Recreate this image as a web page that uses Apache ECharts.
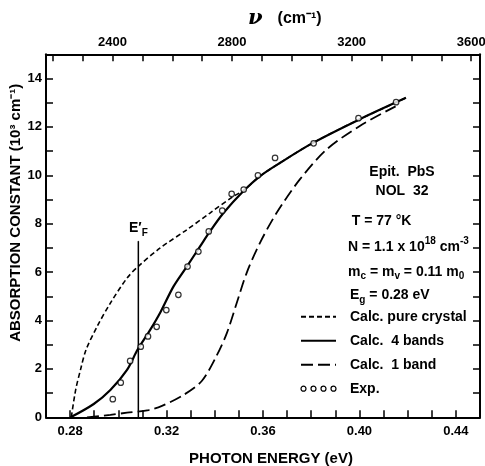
<!DOCTYPE html>
<html>
<head>
<meta charset="utf-8">
<script src="https://cdn.jsdelivr.net/npm/echarts@6/dist/echarts.min.js"></script>
<style>
  html, body { margin: 0; padding: 0; background: #fff; }
  #chart { width: 485px; height: 466px; }
</style>
</head>
<body>
<div id="chart"></div>
<script>
// photon energy (eV) vs absorption constant (10^3 cm^-1)
var pureX = [0.2805, 0.2823, 0.2843, 0.2866, 0.2912, 0.2967, 0.3036, 0.3084, 0.3174, 0.3284, 0.3380, 0.3477, 0.3518, 0.3587, 0.3670, 0.3807, 0.4000, 0.4193];
var pureY = [0, 1.13, 1.96, 2.79, 3.75, 4.72, 5.75, 6.25, 7.00, 7.75, 8.44, 9.13, 9.36, 9.96, 10.51, 11.34, 12.31, 13.20];

var fourX = [0.2802, 0.2898, 0.2967, 0.3036, 0.3080, 0.3132, 0.3174, 0.3229, 0.3284, 0.3339, 0.3380, 0.3436, 0.3518, 0.3587, 0.3670, 0.3807, 0.4000, 0.4193];
var fourY = [0, 0.55, 1.13, 1.96, 2.80, 3.61, 4.33, 5.41, 6.23, 7.06, 7.68, 8.44, 9.34, 9.96, 10.51, 11.34, 12.31, 13.20];

var oneX = [0.2870, 0.2967, 0.3036, 0.3126, 0.3181, 0.3270, 0.3346, 0.3408, 0.3450, 0.3491, 0.3532, 0.3587, 0.3656, 0.3752, 0.3863, 0.4000, 0.4150];
var oneY = [0, 0.10, 0.19, 0.30, 0.47, 0.92, 1.50, 2.55, 3.48, 4.72, 5.96, 7.20, 8.44, 9.82, 11.06, 12.03, 12.85];

var expX = [0.2977, 0.3010, 0.3049, 0.3093, 0.3123, 0.3159, 0.3199, 0.3249, 0.3287, 0.3332, 0.3375, 0.3431, 0.3470, 0.3520, 0.3579, 0.3650, 0.3810, 0.3996, 0.4152];
var expY = [0.75, 1.43, 2.33, 2.92, 3.34, 3.74, 4.43, 5.06, 6.23, 6.85, 7.68, 8.54, 9.23, 9.41, 10.00, 10.72, 11.32, 12.36, 13.02];

// E_F' marker
var efX = [0.3083, 0.3083];
var efY = [0, 7.27];

var seriesNames = ['Calc. pure crystal', 'Calc.  4 bands', 'Calc.  1 band', 'Exp.'];

function pairs(xs, ys) {
  return xs.map(function (x, i) { return [x, ys[i]]; });
}

var FONT = 'Liberation Sans';
var TXT = 'bold 14px "Liberation Sans"';

var chart = echarts.init(document.getElementById('chart'));

var option = {
  backgroundColor: '#fff',
  animation: false,
  title: {
    text: '{nu|ν}   {t|(cm⁻¹)}',
    left: 243,
    top: 3,
    textStyle: {
      rich: {
        nu: { fontFamily: 'DejaVu Serif', fontStyle: 'italic', fontWeight: 'bold', fontSize: 21, color: '#000' },
        t: { fontFamily: FONT, fontWeight: 'bold', fontSize: 16, color: '#000' }
      }
    }
  },
  legend: {
    orient: 'vertical',
    left: 300,
    top: 304.7,
    padding: 0,
    itemGap: 0,
    itemWidth: 35,
    itemHeight: 5,
    itemStyle: { opacity: 0 },
    textStyle: { fontFamily: FONT, fontWeight: 'bold', fontSize: 14, color: '#000', lineHeight: 24, padding: [0, 0, 0, 9] },
    data: [
      { name: seriesNames[0] },
      { name: seriesNames[1] },
      { name: seriesNames[2] },
      {
        name: seriesNames[3],
        icon: 'path://M0,2.5a2.5,2.5 0 1,0 5,0a2.5,2.5 0 1,0 -5,0M10,2.5a2.5,2.5 0 1,0 5,0a2.5,2.5 0 1,0 -5,0M20,2.5a2.5,2.5 0 1,0 5,0a2.5,2.5 0 1,0 -5,0M30,2.5a2.5,2.5 0 1,0 5,0a2.5,2.5 0 1,0 -5,0',
        itemStyle: { opacity: 1, color: 'transparent', borderColor: '#000', borderWidth: 1.2 }
      }
    ]
  },
  grid: [
    { left: 46, right: 5, top: 54.3, bottom: 48.7, containLabel: false, outerBoundsMode: 'none' },
    { left: 52.7, right: 13.8, top: 54.3, bottom: 48.7, containLabel: false, outerBoundsMode: 'none' }
  ],
  xAxis: [
    {
      gridIndex: 0,
      type: 'value',
      position: 'bottom',
      min: 0.27,
      max: 0.45,
      interval: 0.01,
      name: 'PHOTON ENERGY (eV)',
      nameLocation: 'middle',
      nameGap: 34,
      nameMoveOverlap: false,
      nameTextStyle: { fontFamily: FONT, fontWeight: 'bold', fontSize: 15, color: '#000', padding: [0, 0, 0, 16] },
      axisLine: { onZero: false, lineStyle: { color: '#000', width: 2 } },
      axisTick: { inside: true, length: 7, lineStyle: { color: '#000', width: 1.5 } },
      axisLabel: {
        margin: 8,
        fontFamily: FONT, fontWeight: 'bold', fontSize: 13, color: '#000',
        formatter: function (v) {
          var k = Math.round(v * 100);
          return (k >= 28 && k % 4 === 0) ? (k / 100).toFixed(2) : '';
        }
      },
      splitLine: { show: false }
    },
    {
      gridIndex: 1,
      type: 'value',
      position: 'top',
      min: 2200,
      max: 3600,
      interval: 100,
      axisLine: { onZero: false, lineStyle: { color: '#000', width: 2 } },
      axisTick: { inside: true, length: 7, lineStyle: { color: '#000', width: 1.5 } },
      axisLabel: {
        margin: 5,
        fontFamily: FONT, fontWeight: 'bold', fontSize: 13, color: '#000',
        formatter: function (v) { return (v % 400 === 0) ? String(v) : ''; }
      },
      splitLine: { show: false }
    },
    {
      gridIndex: 0,
      type: 'value',
      position: 'top',
      min: 0.27,
      max: 0.45,
      axisLine: { onZero: false, lineStyle: { color: '#000', width: 2 } },
      axisTick: { show: false },
      axisLabel: { show: false },
      splitLine: { show: false }
    }
  ],
  yAxis: [
    {
      gridIndex: 0,
      type: 'value',
      min: 0,
      max: 15,
      interval: 1,
      name: 'ABSORPTION CONSTANT (10³ cm⁻¹)',
      nameLocation: 'middle',
      nameGap: 23,
      nameMoveOverlap: false,
      nameTextStyle: { fontFamily: FONT, fontWeight: 'bold', fontSize: 15, color: '#000', padding: [0, 0, 0, 46] },
      axisLine: { onZero: false, lineStyle: { color: '#000', width: 2 } },
      axisTick: { inside: true, length: 7, lineStyle: { color: '#000', width: 1.5 } },
      axisLabel: {
        margin: 4,
        fontFamily: FONT, fontWeight: 'bold', fontSize: 13, color: '#000',
        formatter: function (v) { return (v % 2 === 0 && v < 15) ? String(v) : ''; }
      },
      splitLine: { show: false }
    },
    {
      gridIndex: 0,
      type: 'value',
      position: 'right',
      min: 0,
      max: 15,
      interval: 1,
      axisLine: { show: true, onZero: false, lineStyle: { color: '#000', width: 2 } },
      axisTick: { inside: true, length: 7, lineStyle: { color: '#000', width: 1.5 } },
      axisLabel: { show: false },
      splitLine: { show: false }
    },
    { gridIndex: 1, type: 'value', show: false, min: 0, max: 1 }
  ],
  graphic: [
    { type: 'text', x: 402, y: 171.7, style: { text: 'Epit.  PbS', font: TXT, fill: '#000', textAlign: 'center', textVerticalAlign: 'middle' } },
    { type: 'text', x: 402, y: 190.7, style: { text: 'NOL  32', font: TXT, fill: '#000', textAlign: 'center', textVerticalAlign: 'middle' } },
    { type: 'text', x: 351.7, y: 220.7, style: { text: 'T = 77 °K', font: TXT, fill: '#000', textAlign: 'left', textVerticalAlign: 'middle' } },
    {
      type: 'text', x: 348, y: 246.7,
      style: {
        text: '{n|N = 1.1 x 10}{p|18}{n| cm}{p|-3}',
        textAlign: 'left', textVerticalAlign: 'middle',
        rich: {
          n: { fontFamily: FONT, fontWeight: 'bold', fontSize: 14, fill: '#000', lineHeight: 20 },
          p: { fontFamily: FONT, fontWeight: 'bold', fontSize: 10, fill: '#000', lineHeight: 10, verticalAlign: 'top' }
        }
      }
    },
    {
      type: 'text', x: 348, y: 271.7,
      style: {
        text: '{n|m}{s|c}{n| = m}{s|v}{n| = 0.11 m}{s|0}',
        textAlign: 'left', textVerticalAlign: 'middle',
        rich: {
          n: { fontFamily: FONT, fontWeight: 'bold', fontSize: 14, fill: '#000', lineHeight: 20 },
          s: { fontFamily: FONT, fontWeight: 'bold', fontSize: 10, fill: '#000', lineHeight: 10, verticalAlign: 'bottom' }
        }
      }
    },
    {
      type: 'text', x: 350, y: 295,
      style: {
        text: '{n|E}{s|g}{n| = 0.28 eV}',
        textAlign: 'left', textVerticalAlign: 'middle',
        rich: {
          n: { fontFamily: FONT, fontWeight: 'bold', fontSize: 14, fill: '#000', lineHeight: 20 },
          s: { fontFamily: FONT, fontWeight: 'bold', fontSize: 10, fill: '#000', lineHeight: 10, verticalAlign: 'bottom' }
        }
      }
    }
  ],
  series: [
    {
      name: seriesNames[0],
      type: 'line',
      xAxisIndex: 0, yAxisIndex: 0,
      data: pairs(pureX, pureY),
      smooth: 0.3,
      symbol: 'none',
      color: '#000',
      lineStyle: { color: '#000', width: 1.6, type: [5, 3] },
      z: 3
    },
    {
      name: seriesNames[1],
      type: 'line',
      xAxisIndex: 0, yAxisIndex: 0,
      data: pairs(fourX, fourY),
      smooth: 0.3,
      symbol: 'none',
      color: '#000',
      lineStyle: { color: '#000', width: 2.2 },
      z: 4
    },
    {
      name: seriesNames[2],
      type: 'line',
      xAxisIndex: 0, yAxisIndex: 0,
      data: pairs(oneX, oneY),
      smooth: 0.3,
      symbol: 'none',
      color: '#000',
      lineStyle: { color: '#000', width: 1.8, type: [12, 5] },
      z: 3
    },
    {
      name: seriesNames[3],
      type: 'scatter',
      xAxisIndex: 0, yAxisIndex: 0,
      data: pairs(expX, expY),
      symbol: 'circle',
      symbolSize: 5.5,
      color: '#000',
      itemStyle: { color: '#fff', borderColor: '#000', borderWidth: 1.2 },
      z: 5
    },
    {
      name: 'EF',
      type: 'line',
      xAxisIndex: 0, yAxisIndex: 0,
      data: pairs(efX, efY).map(function (p, i) {
        return i === 1 ? {
          value: p,
          label: {
            show: true,
            position: 'top',
            distance: 3,
            formatter: '{e|E′}{s|F}',
            rich: {
              e: { fontFamily: FONT, fontWeight: 'bold', fontSize: 14, color: '#000', lineHeight: 20 },
              s: { fontFamily: FONT, fontWeight: 'bold', fontSize: 10, color: '#000', lineHeight: 10, verticalAlign: 'bottom' }
            }
          }
        } : p;
      }),
      symbol: 'circle',
      symbolSize: 1,
      showSymbol: true,
      color: '#000',
      lineStyle: { color: '#000', width: 1.5 },
      z: 2
    }
  ]
};

chart.setOption(option);
</script>
</body>
</html>
